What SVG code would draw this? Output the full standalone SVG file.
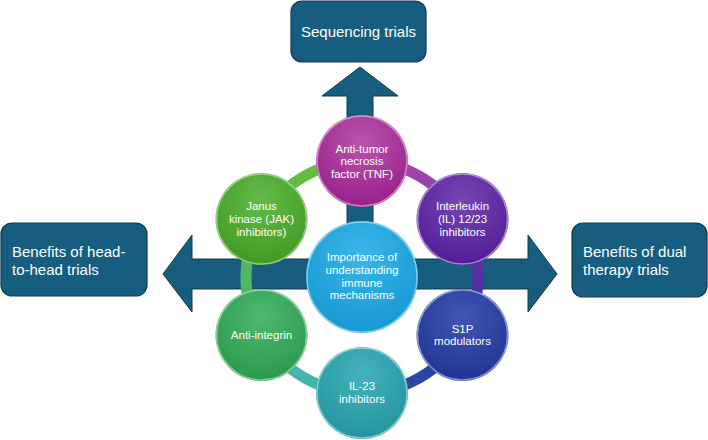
<svg xmlns="http://www.w3.org/2000/svg" width="708" height="440" viewBox="0 0 708 440">
<defs>
<style>
.box{fill:#165d7f;stroke:#0d3d52;stroke-width:1.2}
.bt{font-family:"Liberation Sans","Noto Sans",sans-serif;font-size:15px;fill:#ffffff}
.ct{font-family:"Liberation Sans","Noto Sans",sans-serif;font-size:11.5px;fill:#ffffff;text-anchor:middle}
.rim{fill:none;stroke:#ffffff;stroke-opacity:0.45;stroke-width:1.5}
.seg{fill:none;stroke-width:11}
</style>
<radialGradient id="gTNF" cx="50%" cy="30%" r="75%"><stop offset="0" stop-color="#b955ac"/><stop offset="1" stop-color="#971c89"/></radialGradient>
<radialGradient id="gJAK" cx="50%" cy="30%" r="75%"><stop offset="0" stop-color="#63bb47"/><stop offset="1" stop-color="#3d9821"/></radialGradient>
<radialGradient id="gIL12" cx="50%" cy="30%" r="75%"><stop offset="0" stop-color="#7646b3"/><stop offset="1" stop-color="#501b96"/></radialGradient>
<radialGradient id="gS1P" cx="50%" cy="30%" r="75%"><stop offset="0" stop-color="#4156b3"/><stop offset="1" stop-color="#1f3292"/></radialGradient>
<radialGradient id="gIL23" cx="50%" cy="30%" r="75%"><stop offset="0" stop-color="#44b2ba"/><stop offset="1" stop-color="#20939d"/></radialGradient>
<radialGradient id="gAI" cx="50%" cy="30%" r="75%"><stop offset="0" stop-color="#4db770"/><stop offset="1" stop-color="#29984b"/></radialGradient>
<radialGradient id="gC" cx="50%" cy="30%" r="75%"><stop offset="0" stop-color="#3ab6e9"/><stop offset="1" stop-color="#1496d2"/></radialGradient>
<linearGradient id="s1" gradientUnits="userSpaceOnUse" x1="362" y1="161" x2="462.5" y2="219"><stop offset="0" stop-color="#b54aa8"/><stop offset="1" stop-color="#8a3aa8"/></linearGradient>
<linearGradient id="s2" gradientUnits="userSpaceOnUse" x1="462.5" y1="219" x2="462.5" y2="335"><stop offset="0" stop-color="#6a30a8"/><stop offset="1" stop-color="#4030a4"/></linearGradient>
<linearGradient id="s3" gradientUnits="userSpaceOnUse" x1="462.5" y1="335" x2="362" y2="393"><stop offset="0" stop-color="#2a3aa0"/><stop offset="1" stop-color="#2a50b0"/></linearGradient>
<linearGradient id="s4" gradientUnits="userSpaceOnUse" x1="362" y1="393" x2="261.5" y2="335"><stop offset="0" stop-color="#40b0b8"/><stop offset="1" stop-color="#4ab8a0"/></linearGradient>
<linearGradient id="s5" gradientUnits="userSpaceOnUse" x1="261.5" y1="335" x2="261.5" y2="219"><stop offset="0" stop-color="#48b878"/><stop offset="1" stop-color="#58b850"/></linearGradient>
<linearGradient id="s6" gradientUnits="userSpaceOnUse" x1="261.5" y1="219" x2="362" y2="161"><stop offset="0" stop-color="#5cb83e"/><stop offset="1" stop-color="#6cc048"/></linearGradient>
</defs>
<rect width="708" height="440" fill="#ffffff"/>

<g id="connectors">
<path d="M360,67 L398,96 L373,96 L373,259 L528,259 L528,235 L557,274 L528,312 L528,289 L192,289 L192,312 L163,274 L192,235 L192,259 L347,259 L347,96 L322,96 Z" fill="#175d7e" stroke="#0f3a4e" stroke-width="1"/>
<path class="seg" stroke="url(#s1)" d="M362,161 A116,116 0 0 1 462.5,219"/>
<path class="seg" stroke="url(#s2)" d="M462.5,219 A116,116 0 0 1 462.5,335"/>
<path class="seg" stroke="url(#s3)" d="M462.5,335 A116,116 0 0 1 362,393"/>
<path class="seg" stroke="url(#s4)" d="M362,393 A116,116 0 0 1 261.5,335"/>
<path class="seg" stroke="url(#s5)" d="M261.5,335 A116,116 0 0 1 261.5,219"/>
<path class="seg" stroke="url(#s6)" d="M261.5,219 A116,116 0 0 1 362,161"/>
</g>

<g id="sequencing">
<rect class="box" x="291" y="1" width="135" height="61" rx="11"/>
<text class="bt" x="358.5" y="37" text-anchor="middle">Sequencing trials</text>
</g>
<g id="head-to-head">
<rect class="box" x="1" y="223" width="146" height="73" rx="11"/>
<text class="bt" x="12" y="257">Benefits of head-</text>
<text class="bt" x="12" y="275">to-head trials</text>
</g>
<g id="dual-therapy">
<rect class="box" x="572" y="223" width="135" height="74" rx="11"/>
<text class="bt" x="583" y="257">Benefits of dual</text>
<text class="bt" x="583" y="275">therapy trials</text>
</g>

<g id="tnf">
<circle cx="362" cy="161" r="46" fill="url(#gTNF)"/>
<circle class="rim" cx="362" cy="161" r="45"/>
<text class="ct" x="362" y="152.5">Anti-tumor</text>
<text class="ct" x="362" y="165">necrosis</text>
<text class="ct" x="362" y="177.5">factor (TNF)</text>
</g>
<g id="il12-23">
<circle cx="462.5" cy="219" r="46" fill="url(#gIL12)"/>
<circle class="rim" cx="462.5" cy="219" r="45"/>
<text class="ct" x="462.5" y="210">Interleukin</text>
<text class="ct" x="462.5" y="223">(IL) 12/23</text>
<text class="ct" x="462.5" y="236">inhibitors</text>
</g>
<g id="s1p">
<circle cx="462.5" cy="335" r="46" fill="url(#gS1P)"/>
<circle class="rim" cx="462.5" cy="335" r="45"/>
<text class="ct" x="462.5" y="332.5">S1P</text>
<text class="ct" x="462.5" y="345">modulators</text>
</g>
<g id="il23">
<circle cx="362" cy="393" r="46" fill="url(#gIL23)"/>
<circle class="rim" cx="362" cy="393" r="45"/>
<text class="ct" x="362" y="390">IL-23</text>
<text class="ct" x="362" y="403">inhibitors</text>
</g>
<g id="anti-integrin">
<circle cx="261.5" cy="335" r="46" fill="url(#gAI)"/>
<circle class="rim" cx="261.5" cy="335" r="45"/>
<text class="ct" x="261.5" y="339">Anti-integrin</text>
</g>
<g id="jak">
<circle cx="261.5" cy="219" r="46" fill="url(#gJAK)"/>
<circle class="rim" cx="261.5" cy="219" r="45"/>
<text class="ct" x="261.5" y="210">Janus</text>
<text class="ct" x="261.5" y="223">kinase (JAK)</text>
<text class="ct" x="261.5" y="236">inhibitors)</text>
</g>
<g id="center">
<circle cx="362" cy="277" r="56" fill="url(#gC)"/>
<circle class="rim" cx="362" cy="277" r="55"/>
<text class="ct" x="362" y="261">Importance of</text>
<text class="ct" x="362" y="274">understanding</text>
<text class="ct" x="362" y="286.5">immune</text>
<text class="ct" x="362" y="299">mechanisms</text>
</g>
</svg>
